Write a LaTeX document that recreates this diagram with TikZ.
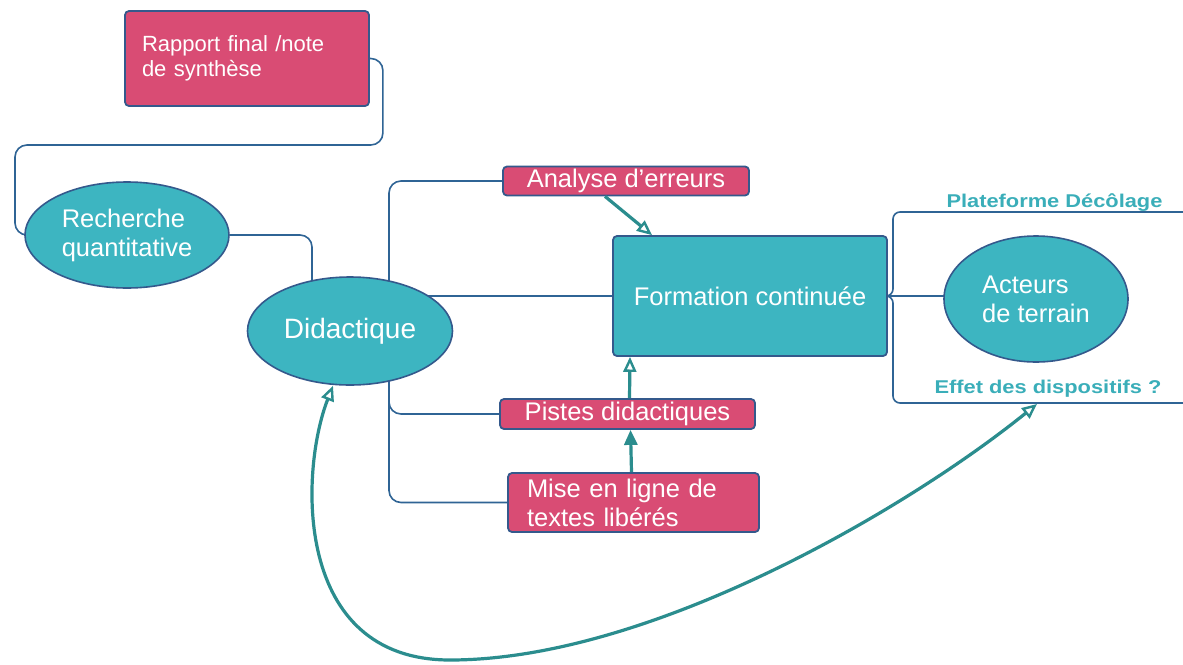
\documentclass[tikz,border=0pt]{standalone}
\usepackage{fontspec}
\setmainfont{Liberation Sans}
\newfontfamily\lblfont[FakeStretch=1.18]{Liberation Sans}
\usetikzlibrary{shapes.geometric,arrows.meta,calc}
\definecolor{pinkf}{HTML}{D94C74}
\definecolor{tealf}{HTML}{3DB5C1}
\definecolor{bord}{HTML}{34598C}
\definecolor{connc}{HTML}{2F6495}
\definecolor{arrc}{HTML}{2B8D8E}
\definecolor{lblc}{HTML}{3AAEB9}
\pgfdeclarelayer{bg}
\pgfsetlayers{bg,main}
\begin{document}
\begin{tikzpicture}[x=1pt,y=-1pt,
 pbox/.style={draw=bord, line width=1.8pt, fill=pinkf, rounded corners=4pt, text=white, inner sep=0pt},
 tbox/.style={draw=bord, line width=1.8pt, fill=tealf, rounded corners=4pt, text=white, inner sep=0pt},
 tell/.style={ellipse, draw=bord, line width=1.6pt, fill=tealf, text=white, inner sep=0pt},
 cline/.style={draw=connc, line width=1.6pt, rounded corners=12pt},
 tarr/.style={draw=arrc, line width=3.2pt},
 opentip/.style={-{Triangle[open, length=15pt, width=13pt, line width=2.4pt]}},
 lab/.style={text=lblc, font=\lblfont\bfseries\fontsize{18.5}{20}\selectfont, inner sep=0pt, anchor=base},
 big/.style={font=\fontsize{25.5}{29}\selectfont}]
\useasboundingbox (0,0) rectangle (1183,664);

\node[pbox, minimum width=244pt, minimum height=95pt, text width=210pt, align=left, font=\fontsize{22}{25.5}\selectfont] (rap) at (247,58.5) {Rapport final /note\\de synthèse};
\node[tell, minimum width=204pt, minimum height=106pt, align=left, big] (rech) at (127,235) {Recherche\\quantitative};
\node[tell, minimum width=205pt, minimum height=108pt, font=\fontsize{28}{30}\selectfont] (did) at (350,331) {Didactique};
\node[pbox, minimum width=246pt, minimum height=29pt, big] (ana) at (626,181) {Analyse d'erreurs};
\node[tbox, minimum width=274pt, minimum height=120pt, big] (form) at (750,296) {Formation continuée};
\node[pbox, minimum width=255pt, minimum height=30pt, big] (pis) at (627.5,414) {Pistes didactiques};
\node[pbox, minimum width=251pt, minimum height=59pt, text width=213pt, align=left, big] (mise) at (633.5,502.5) {Mise en ligne de\\textes libérés};
\node[tell, minimum width=184pt, minimum height=126pt, align=left, big] (act) at (1036,299) {Acteurs\\de terrain};
\node[lab] (plat) at (1054.5,207) {Plateforme Décôlage};
\node[lab] (eff) at (1048,393) {Effet des dispositifs ?};
\coordinate (pend) at (1183,212);
\coordinate (eend) at (1183,403);
\coordinate (etip) at (1037,404);

\begin{pgfonlayer}{bg}
\fill[white] (0,0) rectangle (1183,664);
\draw[cline] (rap.east) -- ++(13,0) |- (15,145) |- (rech.west);
\draw[cline] (rech.east) -| ([xshift=-38pt]did.center);
\draw[cline] ([xshift=39pt]did.center) |- (ana.west);
\draw[cline] ([xshift=39pt]did.center) |- (pis.west);
\draw[cline] ([xshift=39pt]did.center) |- (mise.west);
\draw[cline] (did.center |- form.west) -- (form.west);
\draw[cline, rounded corners=7pt] (form.east) -- (893,296) -- (893,212) -- (pend);
\draw[cline, rounded corners=7pt] (form.east) -- (893,296) -- (893,403) -- (eend);
\draw[cline] (form.east) -- (form.east -| act.center);
\end{pgfonlayer}

\draw[tarr, opentip] ([xshift=-21pt]ana.south) -- ([xshift=-98pt]form.north);
\draw[tarr, opentip] ([xshift=2pt]pis.north) -- ([xshift=-120pt]form.south);
\draw[tarr, -{Triangle[length=15pt, width=13pt]}] ([xshift=-2pt]mise.north) -- ([xshift=3pt]pis.south);
\draw[tarr, {Triangle[open, length=15pt, width=13pt, line width=2.4pt]}-{Triangle[open, length=15pt, width=13pt, line width=2.4pt]}]
  (etip) .. controls (907,509) and (650,660) .. (450,660) .. controls (292,660) and (300,470) .. ([xshift=-17pt]did.south);
\end{tikzpicture}
\end{document}
